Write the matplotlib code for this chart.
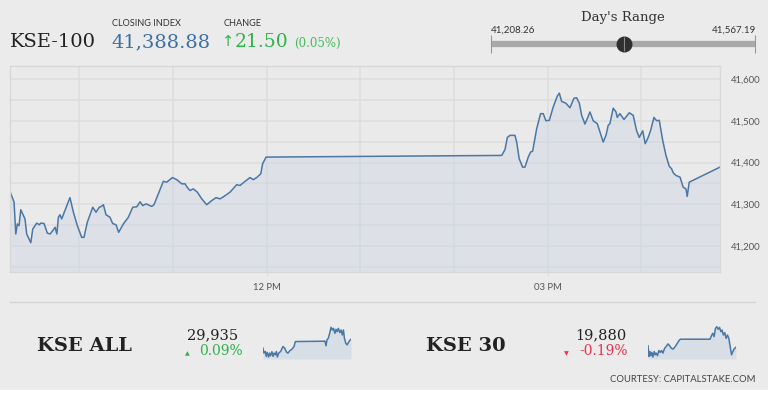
import matplotlib
matplotlib.use("Agg")
import matplotlib.pyplot as plt
from matplotlib.ticker import FuncFormatter, FixedLocator
from matplotlib.patches import Rectangle

W, H = 768, 395

# KSE-100 intraday (minutes after midnight, index value)
minutes = [555.6, 558.2, 559.3, 560.3, 561.4, 562.5, 564.2, 565.2, 566.3, 568.9,
           570.2, 572.7, 574.4, 575.3, 577.4, 579.5, 581.3, 583.0, 584.5, 585.6,
           586.6, 587.6, 588.7, 594.0, 596.2, 598.7, 601.5, 603.0, 605.1, 608.6,
           610.7, 612.8, 613.7, 615.4, 617.1, 619.6, 621.4, 623.5, 625.2, 628.2,
           631.4, 634.2, 636.8, 638.9, 640.6, 642.7, 646.4, 647.8, 650.6, 653.8,
           656.0, 659.6, 662.4, 665.6, 667.7, 669.2, 670.9, 673.0, 675.6, 678.4,
           681.6, 684.8, 687.6, 690.1, 692.7, 696.5, 700.8, 702.9, 705.5, 709.3,
           711.4, 713.6, 716.2, 717.4, 719.6, 870.5, 872.6, 874.1, 875.8, 879.0,
           880.1, 881.7, 883.9, 885.4, 887.5, 889.0, 890.3, 892.9, 895.4, 897.1,
           898.8, 901.0, 903.5, 906.1, 907.4, 908.9, 911.6, 914.2, 916.8, 918.5,
           920.2, 921.7, 923.8, 925.3, 927.0, 929.1, 931.7, 933.4, 935.5, 937.3,
           938.7, 939.8, 941.9, 943.7, 944.5, 946.2, 948.8, 952.2, 954.7, 956.9,
           958.6, 960.8, 962.4, 964.3, 965.9, 968.0, 969.7, 971.4, 973.6, 975.7,
           977.8, 979.3, 980.4, 982.1, 984.7, 986.7, 988.5, 989.3, 990.6, 1010.3]
kse100 = [41331, 41305, 41229, 41253, 41249, 41287, 41273, 41265, 41229, 41208,
          41241, 41255, 41251, 41255, 41254, 41231, 41229, 41237, 41245, 41229,
          41269, 41275, 41265, 41316, 41281, 41249, 41221, 41221, 41257, 41293,
          41281, 41293, 41294, 41299, 41275, 41269, 41254, 41251, 41233, 41253,
          41269, 41293, 41294, 41306, 41297, 41301, 41295, 41299, 41325, 41355,
          41353, 41364, 41359, 41349, 41349, 41340, 41333, 41337, 41329, 41313,
          41299, 41309, 41316, 41313, 41319, 41329, 41347, 41345, 41353, 41364,
          41359, 41364, 41373, 41397, 41413, 41417, 41431, 41460, 41465, 41465,
          41449, 41409, 41389, 41389, 41413, 41425, 41427, 41481, 41517, 41517,
          41500, 41501, 41533, 41559, 41566, 41546, 41542, 41531, 41554, 41555,
          41542, 41513, 41492, 41505, 41521, 41500, 41493, 41473, 41449, 41465,
          41489, 41493, 41530, 41521, 41508, 41517, 41503, 41519, 41513, 41476,
          41460, 41476, 41445, 41460, 41477, 41508, 41500, 41501, 41453, 41417,
          41391, 41385, 41375, 41369, 41365, 41341, 41337, 41319, 41353, 41389]

# sparklines
all_min = [556, 561, 568, 573, 578, 585, 590, 595, 602, 608, 613, 620, 625, 630,
           637, 647, 659, 668, 677, 685, 694, 706, 716, 723, 876, 881, 886, 893,
           900, 907, 914, 920, 927, 933, 938, 945, 952, 959, 965, 971, 976, 983,
           990, 997, 1003, 1010]
kse_all = [29859, 29817, 29831, 29789, 29823, 29784, 29817, 29795, 29829, 29789,
           29817, 29803, 29831, 29784, 29817, 29831, 29873, 29859, 29826, 29817,
           29837, 29851, 29873, 29915, 29918, 29879, 29929, 29943, 29985, 30036,
           30013, 30027, 29985, 30019, 29999, 30027, 29991, 30013, 29971, 30013,
           29943, 29901, 29887, 29907, 29924, 29935]
k30_min = [556, 561, 566, 571, 576, 581, 588, 593, 598, 605, 612, 619, 626, 633,
           642, 650, 659, 668, 676, 685, 694, 702, 716, 723, 876, 883, 890, 897,
           904, 911, 918, 925, 932, 938, 945, 952, 959, 966, 973, 980, 987, 994,
           1000, 1010]
kse30 = [19888, 19827, 19855, 19831, 19850, 19823, 19855, 19836, 19846, 19831,
         19861, 19850, 19861, 19846, 19874, 19884, 19899, 19888, 19874, 19869,
         19880, 19893, 19918, 19926, 19926, 19945, 19960, 19941, 19988, 19998,
         19983, 19994, 19969, 19979, 19950, 19964, 19931, 19950, 19931, 19884,
         19836, 19855, 19869, 19880]

close_val = 41388.88
change_val = 21.50
change_pct = 0.05
day_low, day_high = 41208.26, 41567.19

grid_c = "#dddddd"
line_c = "#4a77a5"
fill_c = "#c5d3e3"
green = "#2fb34b"
red = "#e8334f"
serif = ["DejaVu Serif"]
sans = ["Lato", "DejaVu Sans"]


def fx(x):
    return x / W


def fy(y):
    return 1 - y / H


def box(l, t, r, b):
    return [l / W, 1 - b / H, (r - l) / W, (b - t) / H]


fig = plt.figure(figsize=(W / 100, H / 100), dpi=100, facecolor="#ebebeb")
fig.patches.append(Rectangle((0, 0), 1, 5 / H, transform=fig.transFigure,
                             color="white", zorder=-1))

# header
fig.text(fx(10), fy(47), "KSE-100", family=serif, fontsize=14, color="#222222")
fig.text(fx(112), fy(26), "CLOSING INDEX", family=sans, fontsize=6.6, color="#333333")
fig.text(fx(111), fy(47), f"{close_val:,.2f}", family=serif, fontsize=14, color="#3d6fa3")
fig.text(fx(224), fy(26), "CHANGE", family=sans, fontsize=6.6, color="#333333")
fig.text(fx(222), fy(46), "\u2191", family=["DejaVu Sans"], fontsize=10.5, color=green)
fig.text(fx(235), fy(47), f"{change_val:.2f}", family=serif, fontsize=13.5, color=green)
fig.text(fx(294), fy(47), f"({change_pct:.2f}%)", family=serif, fontsize=8.5, color="#45bb5c")

# day's range
fig.text(fx(623), fy(21), "Day's Range", family=serif, fontsize=9.5, color="#333333",
         ha="center")
fig.text(fx(491), fy(33), f"{day_low:,.2f}", family=sans, fontsize=7, color="#333333")
fig.text(fx(756), fy(33), f"{day_high:,.2f}", family=sans, fontsize=7, color="#333333",
         ha="right")
ax_r = fig.add_axes(box(491, 35, 755, 53))
ax_r.set_xlim(day_low, day_high)
ax_r.set_ylim(-1, 1)
ax_r.axis("off")
ax_r.hlines(0, day_low, day_high, color="#a9a9a9", lw=4.5, clip_on=False)
ax_r.vlines([day_low, day_high], -1, 1, color="#999999", lw=0.8, clip_on=False)
ax_r.scatter([close_val], [0], s=110, color="#2f2f2f", zorder=3, clip_on=False)
ax_r.vlines([close_val], -0.8, 0.8, color="#8a8a8a", lw=0.8, zorder=4, clip_on=False)

# main chart
ax = fig.add_axes(box(10, 66, 720, 272))
ax.set_facecolor("#eaeaea")
ax.fill_between(minutes, kse100, 41100, color=fill_c, alpha=0.35, lw=0, zorder=1)
ax.plot(minutes, kse100, color=line_c, lw=1.1, zorder=2)
ax.set_xlim(minutes[0], minutes[-1])
ax.set_ylim(41138, 41631)
ax.yaxis.tick_right()
ax.set_yticks(range(41200, 41601, 100))
ax.yaxis.set_minor_locator(FixedLocator(range(41150, 41601, 100)))
ax.yaxis.set_major_formatter(FuncFormatter(lambda v, p: f"{int(v):,}"))
ax.set_xticks([720, 900])
ax.set_xticklabels(["12 PM", "03 PM"])
ax.xaxis.set_minor_locator(FixedLocator([600, 660, 780, 840, 960]))
ax.grid(which="both", color=grid_c, lw=1.1, zorder=0)
ax.set_axisbelow(True)
ax.tick_params(axis="y", which="both", length=0, pad=8, labelsize=6.8,
               labelcolor="#555555")
ax.tick_params(axis="x", which="major", length=3, color=grid_c, pad=5,
               labelsize=6.8, labelcolor="#555555")
ax.tick_params(axis="x", which="minor", length=0)
for lab in ax.get_xticklabels() + ax.get_yticklabels():
    lab.set_family(sans)
for s in ax.spines.values():
    s.set_color("#d8d8d8")
    s.set_linewidth(1)

# separator
fig.add_artist(plt.Line2D([fx(10), fx(755)], [fy(302), fy(302)],
                          transform=fig.transFigure, color="#d4d4d4", lw=1))

# bottom panels
fig.text(fx(37), fy(351), "KSE ALL", family=serif, fontsize=14, weight="bold",
         color="#222222")
fig.text(fx(213), fy(339), f"{kse_all[-1]:,}", family=serif, fontsize=10.5,
         color="#222222", ha="center")
fig.text(fx(187), fy(355), "\u25b2", family=["DejaVu Sans"], fontsize=4.5,
         color=green, ha="center")
fig.text(fx(243), fy(355), "0.09%", family=serif, fontsize=10, color=green, ha="right")

fig.text(fx(426), fy(351), "KSE 30", family=serif, fontsize=14, weight="bold",
         color="#222222")
fig.text(fx(601), fy(339), f"{kse30[-1]:,}", family=serif, fontsize=10.5,
         color="#222222", ha="center")
fig.text(fx(566), fy(355), "\u25bc", family=["DejaVu Sans"], fontsize=4.5,
         color=red, ha="center")
fig.text(fx(628), fy(355), "-0.19%", family=serif, fontsize=10, color=red, ha="right")

for xs, ys, ylo, yhi, l, r in [(all_min, kse_all, 29767, 30047, 263, 351),
                               (k30_min, kse30, 19812, 20002, 648, 736)]:
    sp = fig.add_axes(box(l, 326, r, 359))
    sp.fill_between(xs, ys, ylo, color=fill_c, alpha=0.5, lw=0)
    sp.plot(xs, ys, color=line_c, lw=1.1)
    sp.set_xlim(xs[0], xs[-1])
    sp.set_ylim(ylo, yhi)
    sp.axis("off")

fig.text(fx(755), fy(382), "COURTESY: CAPITALSTAKE.COM", family=sans, fontsize=6.8,
         color="#444444", ha="right")

fig.savefig("out.png", dpi=100, facecolor=fig.get_facecolor())
